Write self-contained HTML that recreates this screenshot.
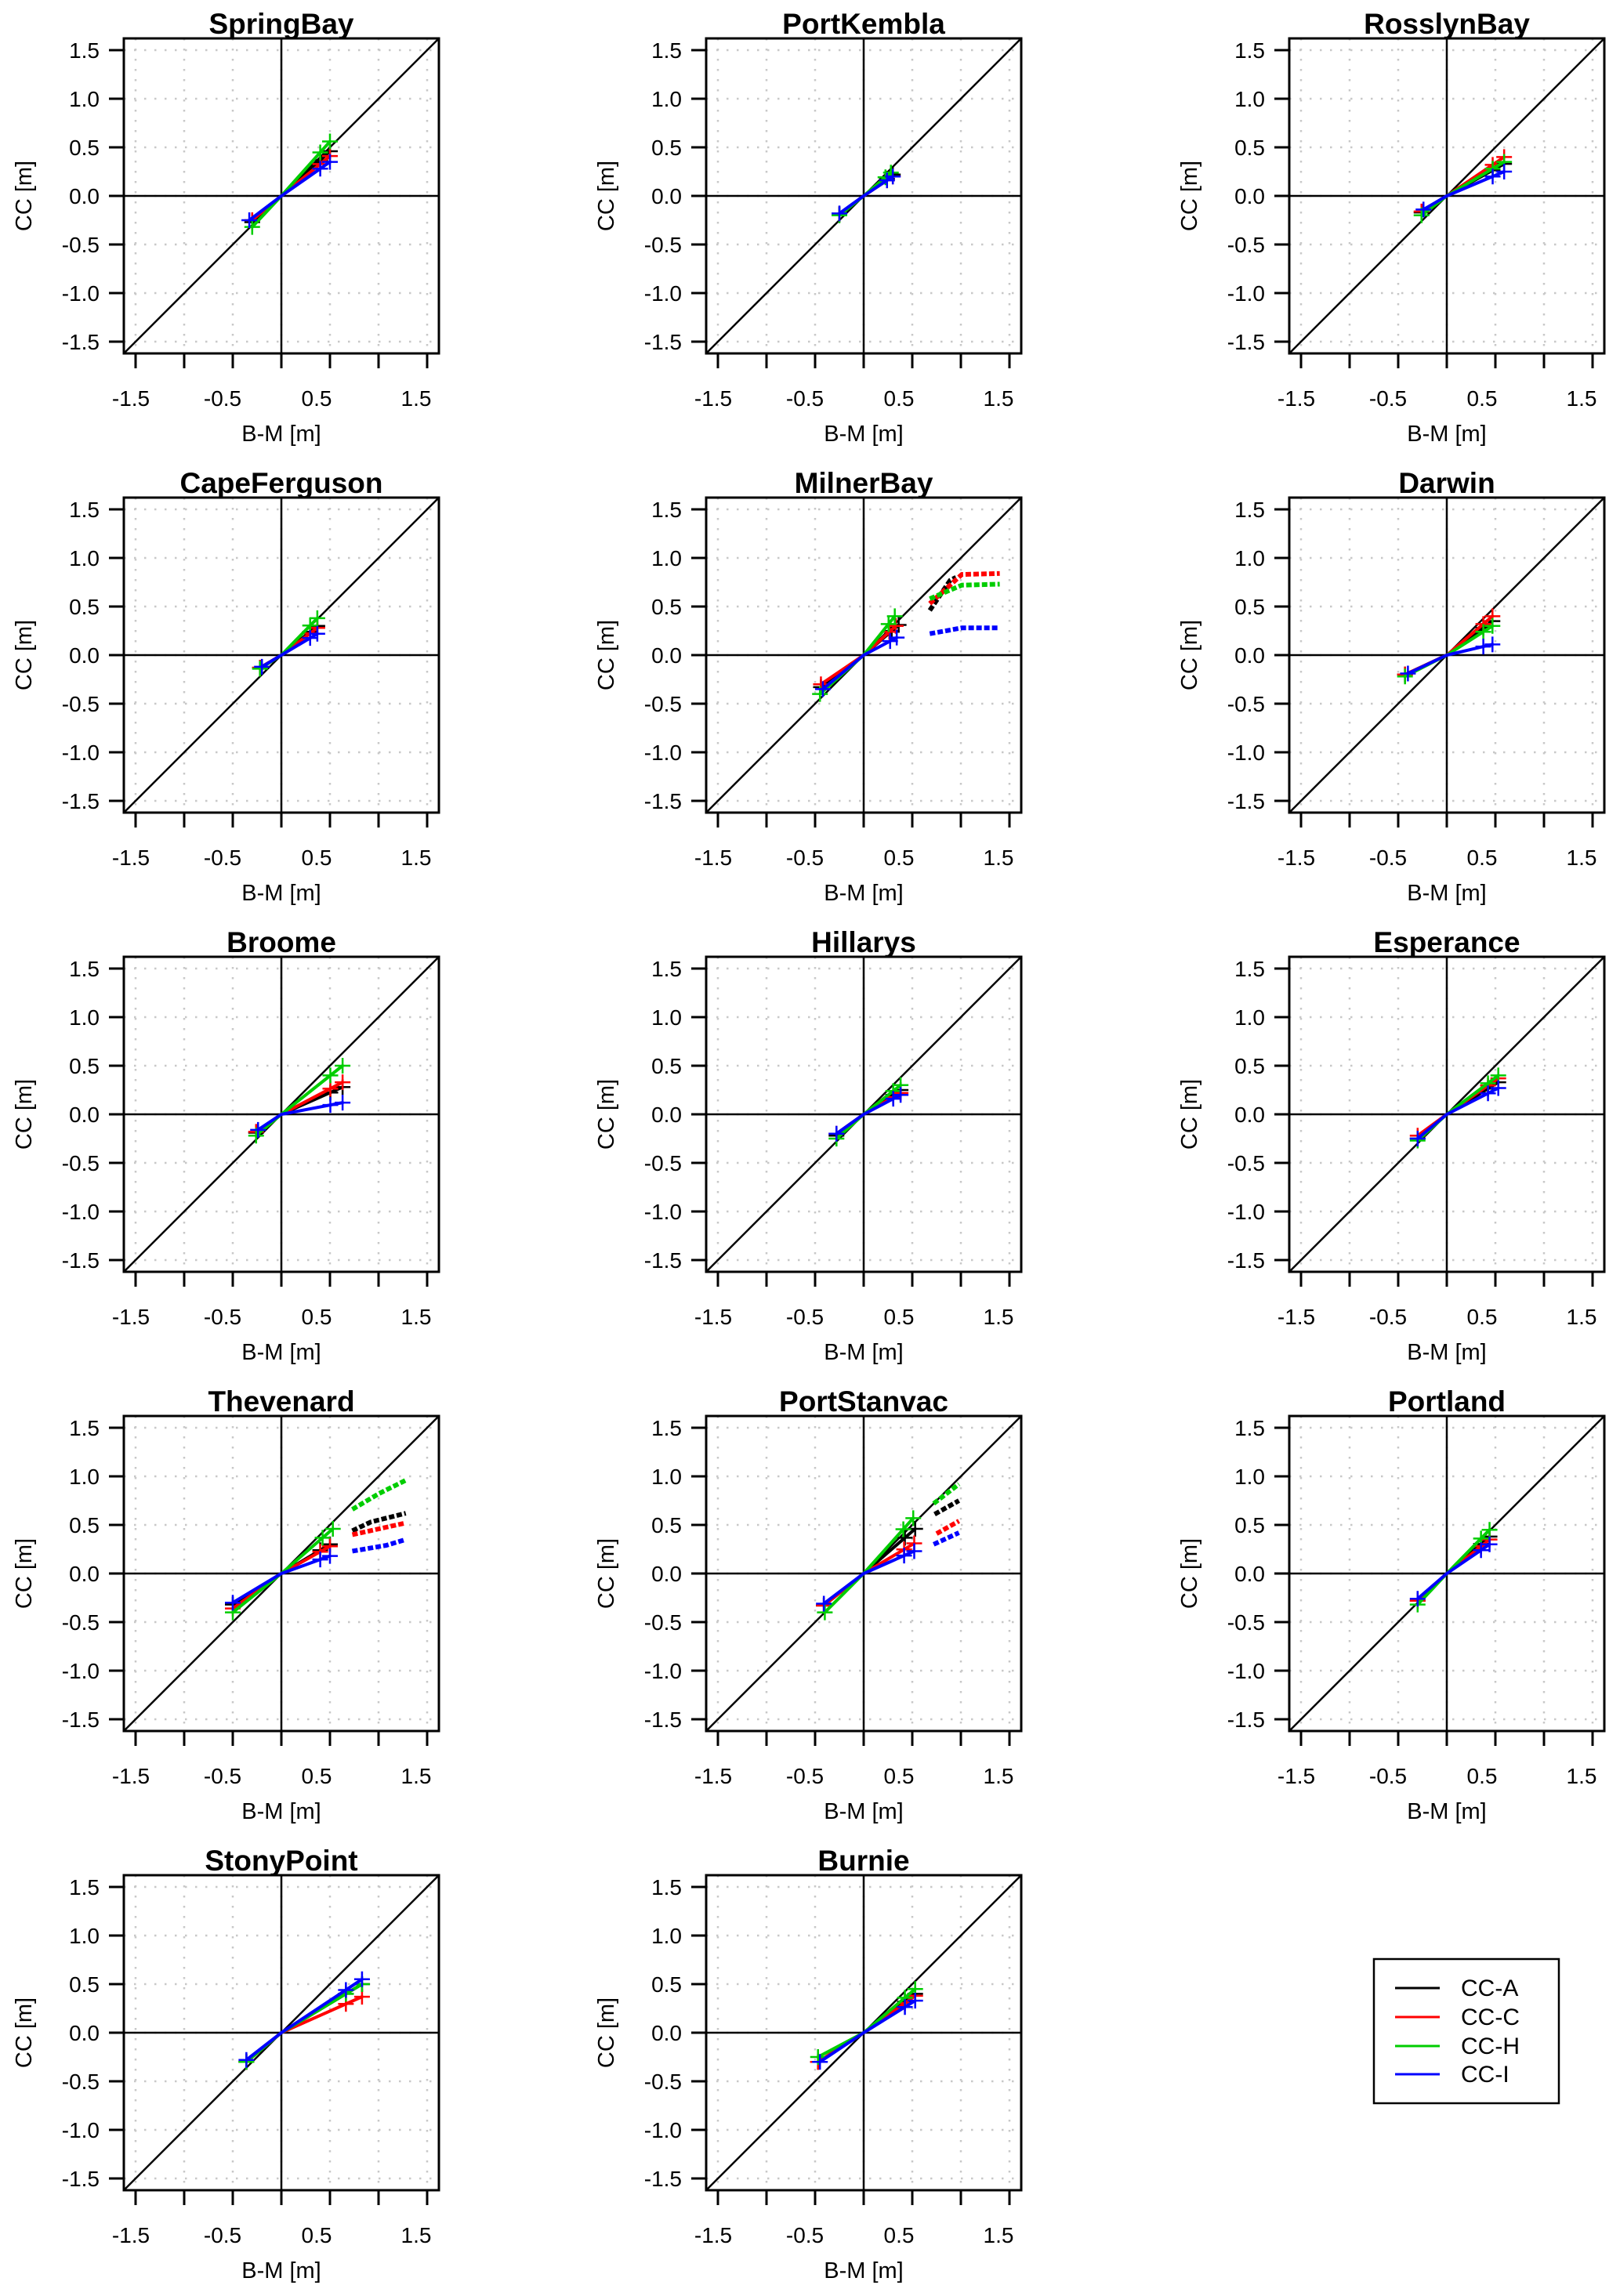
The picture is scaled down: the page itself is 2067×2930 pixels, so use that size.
<!DOCTYPE html>
<html><head><meta charset="utf-8"><style>
html,body{margin:0;padding:0;background:#fff}
svg{display:block;font-family:"Liberation Sans",Arial,sans-serif}
</style></head><body>
<svg id="fig" xmlns="http://www.w3.org/2000/svg" width="2067" height="2930" viewBox="0 0 2067 2930">
<rect x="0" y="0" width="2067" height="2930" fill="#fff"/>
<g id="panels"></g>
<g>
<rect x="1753" y="2500" width="236" height="184" fill="#fff" stroke="#000" stroke-width="2.5"/>
<line x1="1780" y1="2537" x2="1837" y2="2537" stroke="#000" stroke-width="3"/><text x="1864" y="2547" font-size="30">CC-A</text>
<line x1="1780" y1="2574" x2="1837" y2="2574" stroke="#ff0000" stroke-width="3"/><text x="1864" y="2584" font-size="30">CC-C</text>
<line x1="1780" y1="2611" x2="1837" y2="2611" stroke="#00cd00" stroke-width="3"/><text x="1864" y="2621" font-size="30">CC-H</text>
<line x1="1780" y1="2647" x2="1837" y2="2647" stroke="#0000ff" stroke-width="3"/><text x="1864" y="2657" font-size="30">CC-I</text>
</g>
</svg>
<script>
const stations = ['SpringBay','PortKembla','RosslynBay','CapeFerguson','MilnerBay','Darwin','Broome','Hillarys','Esperance','Thevenard','PortStanvac','Portland','StonyPoint','Burnie'];
const seriesColors = ['#000000','#ff0000','#00cd00','#0000ff'];
const tickValues = [-1.5,-1.0,-0.5,0.0,0.5,1.0,1.5];
const yTickLabels = ['-1.5','-1.0','-0.5','0.0','0.5','1.0','1.5'];
const xTickLabels = ['-1.5','','-0.5','','0.5','','1.5'];
// negative end per station, series A,C,H,I
const negEnd = [
 [[-.3,-.27],[-.3,-.25],[-.3,-.32],[-.33,-.25]],
 [[-.25,-.19],[-.25,-.19],[-.25,-.2],[-.25,-.18]],
 [[-.26,-.17],[-.26,-.16],[-.26,-.2],[-.24,-.14]],
 [[-.22,-.13],[-.22,-.13],[-.22,-.14],[-.2,-.12]],
 [[-.44,-.33],[-.44,-.3],[-.45,-.4],[-.42,-.35]],
 [[-.43,-.2],[-.43,-.2],[-.43,-.22],[-.4,-.19]],
 [[-.26,-.19],[-.26,-.18],[-.26,-.22],[-.24,-.16]],
 [[-.28,-.22],[-.28,-.2],[-.28,-.25],[-.28,-.2]],
 [[-.3,-.25],[-.3,-.22],[-.3,-.27],[-.3,-.25]],
 [[-.5,-.32],[-.5,-.36],[-.5,-.4],[-.5,-.3]],
 [[-.41,-.33],[-.41,-.33],[-.4,-.4],[-.41,-.31]],
 [[-.3,-.28],[-.3,-.28],[-.3,-.32],[-.3,-.26]],
 [[-.36,-.3],[-.36,-.3],[-.36,-.3],[-.36,-.28]],
 [[-.47,-.3],[-.47,-.3],[-.47,-.25],[-.45,-.3]]
];
// near positive end
const posEnd = [
 [[.5,.46],[.5,.41],[.5,.56],[.5,.35]],
 [[.3,.22],[.3,.2],[.28,.24],[.3,.2]],
 [[.59,.33],[.59,.4],[.59,.35],[.59,.25]],
 [[.37,.3],[.37,.28],[.37,.38],[.37,.22]],
 [[.36,.31],[.33,.3],[.32,.4],[.34,.18]],
 [[.47,.35],[.47,.4],[.47,.3],[.47,.11]],
 [[.63,.28],[.63,.33],[.63,.5],[.63,.12]],
 [[.38,.25],[.38,.22],[.38,.3],[.38,.2]],
 [[.53,.33],[.53,.37],[.53,.4],[.53,.27]],
 [[.5,.3],[.5,.28],[.53,.46],[.5,.18]],
 [[.53,.46],[.52,.31],[.51,.57],[.52,.23]],
 [[.44,.38],[.44,.35],[.44,.45],[.44,.3]],
 [[.83,.5],[.83,.37],[.83,.5],[.83,.55]],
 [[.53,.4],[.53,.38],[.53,.45],[.53,.33]]
];
// detached far segments (station index -> series points)
const farStations = [4, 9, 10];
const farA = [[[.68,.46],[.89,.77],[.95,.8]], [[.73,.44],[.92,.53],[1.28,.62]], [[.73,.61],[.98,.75]]];
const farC = [[[.68,.53],[1.01,.83],[1.4,.84]], [[.73,.40],[1.28,.52]], [[.75,.41],[.98,.54]]];
const farH = [[[.68,.58],[1.01,.72],[1.4,.73]], [[.73,.66],[1.0,.82],[1.28,.96]], [[.72,.72],[.98,.92]]];
const farI = [[[.68,.22],[1.01,.28],[1.4,.28]], [[.73,.23],[1.08,.29],[1.28,.35]], [[.72,.30],[.98,.42]]];

const NS='http://www.w3.org/2000/svg';
const colCx=[359,1102,1846], rowCy=[250,836,1422,2008,2594];
const xLabelShift=[-6,0,-13,0,-17,0,-14];
const U=124, H=201;
const root=document.getElementById('panels');
function el(tag,attrs,parent){const e=document.createElementNS(NS,tag);for(const k in attrs)e.setAttribute(k,attrs[k]);parent.appendChild(e);return e;}
function slug(s){return s.replace(/([a-z])([A-Z])/g,'$1-$2').toLowerCase();}

stations.forEach((name,si)=>{
  const cx=colCx[si%3], cy=rowCy[Math.floor(si/3)];
  const sx=v=>cx+v*U, sy=v=>cy-v*U;
  const L=cx-H,R=cx+H,T=cy-H,B=cy+H;
  const g=el('g',{},root);
  
  
  tickValues.forEach(v=>{
    const gl=el('line',{x1:sx(v),y1:T,x2:sx(v),y2:B,stroke:'#c8c8c8','stroke-width':2.5,'stroke-dasharray':'2.5 10.5'},g);
    
    
    const gh=el('line',{x1:L,y1:sy(v),x2:R,y2:sy(v),stroke:'#c8c8c8','stroke-width':2.5,'stroke-dasharray':'2.5 10.5'},g);
    
    
  });
  el('line',{x1:L,y1:sy(0),x2:R,y2:sy(0),stroke:'#000','stroke-width':2.5},g);
  el('line',{x1:sx(0),y1:T,x2:sx(0),y2:B,stroke:'#000','stroke-width':2.5},g);
  const dg=el('line',{x1:L,y1:B,x2:R,y2:T,stroke:'#000','stroke-width':2.5},g);
  
  
  const fi=farStations.indexOf(si);
  const fars=[farA,farC,farH,farI];
  for(let k=0;k<4;k++){
    const col=seriesColors[k];
    const n=negEnd[si][k], p=posEnd[si][k];
    const pts=[n,[n[0]*0.5,n[1]*0.5],[0,0],[p[0]*0.5,p[1]*0.5],p];
    const pl=el('polyline',{points:pts.map(q=>sx(q[0])+','+sy(q[1])).join(' '),fill:'none',stroke:col,'stroke-width':4,'stroke-linecap':'round','stroke-linejoin':'round'},g);
    
    
    const crosses=[n,[p[0]*0.8,p[1]*0.8],p];
    crosses.forEach(c=>{
      const X=sx(c[0]),Y=sy(c[1]);
      const cr=el('path',{d:`M${X-10},${Y}H${X+10}M${X},${Y-10}V${Y+10}`,stroke:col,'stroke-width':2.5},g);
      
      
    });
    if(fi>=0){
      const f=fars[k][fi];
      const fl=el('polyline',{points:f.map(q=>sx(q[0])+','+sy(q[1])).join(' '),fill:'none',stroke:col,'stroke-width':6,'stroke-dasharray':'7 3','stroke-linecap':'butt'},g);
      
      
    }
  }
  el('rect',{x:L,y:T,width:2*H,height:2*H,fill:'none',stroke:'#000','stroke-width':3},g);
  tickValues.forEach((v,i)=>{
    el('line',{x1:L,y1:sy(v),x2:L-19,y2:sy(v),stroke:'#000','stroke-width':3},g);
    el('line',{x1:sx(v),y1:B,x2:sx(v),y2:B+19,stroke:'#000','stroke-width':3},g);
    const yl=el('text',{x:L-31,y:sy(v)+10,'font-size':28,'text-anchor':'end'},g);
    yl.textContent=yTickLabels[i];
    
    
    if(xTickLabels[i]){
      const xl=el('text',{x:sx(v)+xLabelShift[i],y:B+67,'font-size':28,'text-anchor':'middle'},g);
      xl.textContent=xTickLabels[i];
      
      
    }
  });
  const xt=el('text',{x:cx,y:B+112,'font-size':29,'text-anchor':'middle'},g);
  xt.textContent='B-M [m]';
  
  
  const yt=el('text',{x:0,y:0,'font-size':29,'text-anchor':'middle',transform:`translate(${L-118},${cy}) rotate(-90)`},g);
  yt.textContent='CC [m]';
  
  
  const tt=el('text',{x:cx,y:T-6,'font-size':37,'font-weight':'bold','text-anchor':'middle'},g);
  tt.textContent=name;
  
  
});
</script>
</body></html>
